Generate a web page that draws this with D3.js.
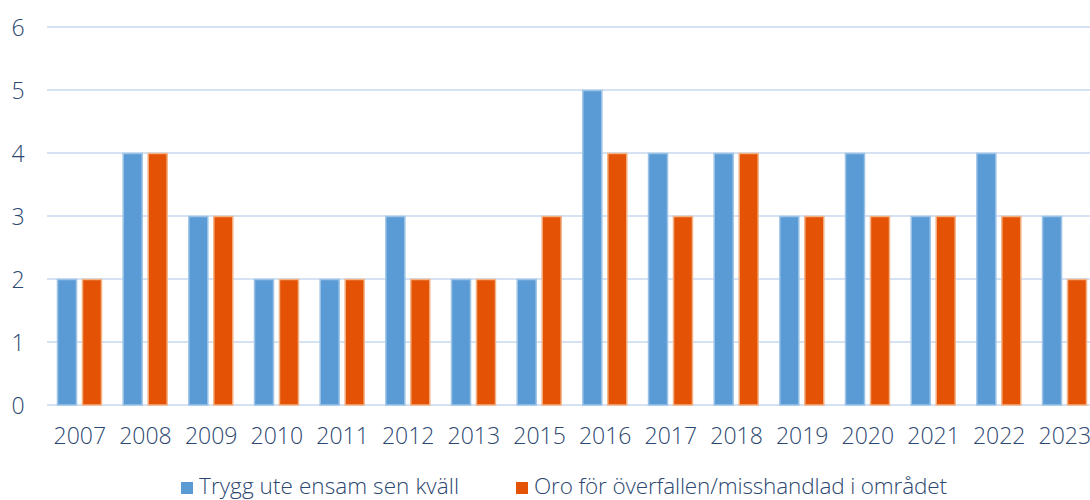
<!DOCTYPE html>
<html><head><meta charset="utf-8">
<script src="https://cdn.jsdelivr.net/npm/d3@7"></script>
<style>body{margin:0;background:#fff;overflow:hidden}svg{display:block}text{font-family:"Open Sans","Liberation Sans",Arial,sans-serif;font-weight:300}</style>
</head><body>
<svg id="c" width="1090" height="500"></svg>
<script>
const categories=["2007","2008","2009","2010","2011","2012","2013","2015","2016","2017","2018","2019","2020","2021","2022","2023"];
const seriesNames=["Trygg ute ensam sen kväll","Oro för överfallen/misshandlad i området"];
const trygg=[2,4,3,2,2,3,2,2,5,4,4,3,4,3,4,3];
const oro=[2,4,3,2,2,2,2,3,4,3,4,3,3,3,3,2];
const yTicks=[0,1,2,3,4,5,6];
const colors=["#5b9bd5","#e35205"];
const strokes=["#9cc3e6","#f4b183"];

const svg=d3.select("#c");
const x=d3.scaleBand().domain(categories).range([47,1097.7]).paddingInner(0).paddingOuter(0);
const y=d3.scaleLinear().domain([0,6]).range([405,27]);
const inner=d3.scaleBand().domain([0,1]).range([10,x.bandwidth()-10.7]).paddingInner(0.2);
const textCol="#2c4770";

svg.append("g").selectAll("line").data(yTicks).join("line")
 .attr("x1",47).attr("x2",1090).attr("y1",d=>y(d)).attr("y2",d=>y(d))
 .attr("stroke","#d5e2f3").attr("stroke-width",2);
svg.append("g").selectAll("text").data(yTicks).join("text")
 .attr("x",18).attr("y",d=>y(d)+8.5).attr("text-anchor","middle")
 .attr("font-size",23).attr("fill",textCol).text(d=>d);

const data=[trygg,oro];
data.forEach((vals,si)=>{
 svg.append("g").selectAll("rect").data(vals).join("rect")
  .attr("x",(d,i)=>x(categories[i])+inner(si)+0.5)
  .attr("width",inner.bandwidth()-1)
  .attr("y",d=>y(d)+0.5)
  .attr("height",d=>y(0)-y(d)-0.5)
  .attr("fill",colors[si]).attr("stroke",strokes[si]).attr("stroke-width",1.5);
});

svg.append("g").selectAll("text").data(categories).join("text")
 .attr("x",d=>x(d)+x.bandwidth()/2).attr("y",443.5).attr("text-anchor","middle")
 .attr("font-size",23).attr("fill",textCol).text(d=>d);

const leg=[{x:181,t:seriesNames[0],c:colors[0],w:260},{x:516,t:seriesNames[1],c:colors[1],w:413}];
const lg=svg.append("g");
leg.forEach(l=>{
 lg.append("rect").attr("x",l.x).attr("y",482).attr("width",12).attr("height",12).attr("fill",l.c);
 lg.append("text").attr("x",l.x+18).attr("y",494).attr("font-size",22.5).attr("fill",textCol)
  .attr("textLength",l.w).attr("lengthAdjust","spacing").text(l.t);
});
</script>
</body></html>
